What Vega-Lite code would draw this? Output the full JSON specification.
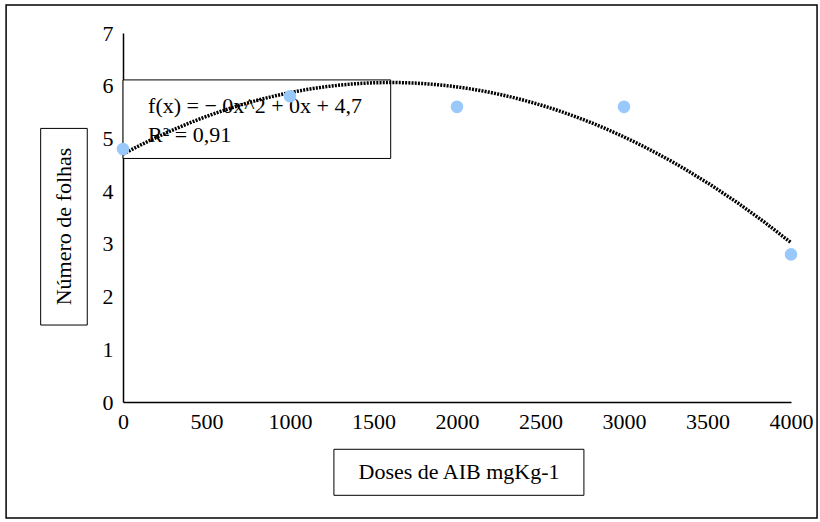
{
  "$schema": "https://vega.github.io/schema/vega-lite/v6.json",
  "autosize": {"type": "none"},
  "width": 668,
  "height": 369,
  "padding": {"left": 123, "top": 33, "right": 29, "bottom": 120},
  "background": "white",
  "config": {
    "view": {"stroke": null},
    "font": "Liberation Serif",
    "text": {"font": "Liberation Serif", "fontWeight": "normal"},
    "axis": {"labelFont": "Liberation Serif", "labelFontWeight": "normal", "labelFontSize": 22, "labelColor": "black", "domainColor": "black", "domainWidth": 1.5, "ticks": false, "grid": false, "title": null, "labelFlush": false, "labelOverlap": false, "format": "d"}
  },
  "data": {"values": [
    {"dose": 0, "folhas": 4.8},
    {"dose": 1000, "folhas": 5.8},
    {"dose": 2000, "folhas": 5.6},
    {"dose": 3000, "folhas": 5.6},
    {"dose": 4000, "folhas": 2.8}
  ]},
  "layer": [
    {
      "data": {"values": [{}]},
      "mark": {"type": "rect", "fill": null, "stroke": "black", "strokeWidth": 1.5, "clip": false},
      "encoding": {
        "x": {"datum": -700, "type": "quantitative", "scale": {"domain": [0, 4000], "nice": false, "zero": false}, "axis": {"values": [0, 500, 1000, 1500, 2000, 2500, 3000, 3500, 4000], "labelPadding": 9, "format": "d"}},
        "x2": {"datum": 4156},
        "y": {"datum": 7.53, "type": "quantitative", "scale": {"domain": [0, 7], "nice": false, "zero": false}, "axis": {"values": [0, 1, 2, 3, 4, 5, 6, 7], "labelPadding": 10, "format": "d"}},
        "y2": {"datum": -2.2}
      }
    },
    {
      "data": {"values": [{}]},
      "mark": {"type": "rect", "fill": "white", "stroke": "black", "strokeWidth": 1, "clip": false},
      "encoding": {
        "x": {"datum": 0, "type": "quantitative"},
        "x2": {"datum": 1603},
        "y": {"datum": 6.11, "type": "quantitative"},
        "y2": {"datum": 4.62}
      }
    },
    {
      "data": {"values": [{}]},
      "mark": {"type": "rect", "fill": "white", "stroke": "black", "strokeWidth": 1, "clip": false},
      "encoding": {
        "x": {"datum": -493, "type": "quantitative"},
        "x2": {"datum": -214},
        "y": {"datum": 5.19, "type": "quantitative"},
        "y2": {"datum": 1.46}
      }
    },
    {
      "data": {"values": [{}]},
      "mark": {"type": "rect", "fill": "white", "stroke": "black", "strokeWidth": 1, "clip": false},
      "encoding": {
        "x": {"datum": 1263, "type": "quantitative"},
        "x2": {"datum": 2760},
        "y": {"datum": -0.897, "type": "quantitative"},
        "y2": {"datum": -1.77}
      }
    },
    {
      "data": {"values": [{}]},
      "mark": {"type": "text", "text": "Número de folhas", "angle": 270, "font": "Liberation Serif", "fontWeight": "normal", "fontSize": 22, "fill": "black", "align": "center", "baseline": "middle", "clip": false},
      "encoding": {
        "x": {"datum": -353, "type": "quantitative"},
        "y": {"datum": 3.33, "type": "quantitative"}
      }
    },
    {
      "data": {"values": [{}]},
      "mark": {"type": "text", "text": "Doses de AIB mgKg-1", "font": "Liberation Serif", "fontWeight": "normal", "fontSize": 22, "fill": "black", "align": "center", "baseline": "middle", "clip": false},
      "encoding": {
        "x": {"datum": 2012, "type": "quantitative"},
        "y": {"datum": -1.334, "type": "quantitative"}
      }
    },
    {
      "data": {"values": [{}]},
      "mark": {"type": "text", "text": "f(x) =  − 0x^2 + 0x + 4,7", "font": "Liberation Serif", "fontWeight": "normal", "fontSize": 22, "fill": "black", "align": "left", "baseline": "middle", "clip": false},
      "encoding": {
        "x": {"datum": 150, "type": "quantitative"},
        "y": {"datum": 5.62, "type": "quantitative"}
      }
    },
    {
      "data": {"values": [{}]},
      "mark": {"type": "text", "text": "R² = 0,91", "font": "Liberation Serif", "fontWeight": "normal", "fontSize": 22, "fill": "black", "align": "left", "baseline": "middle", "clip": false},
      "encoding": {
        "x": {"datum": 150, "type": "quantitative"},
        "y": {"datum": 5.07, "type": "quantitative"}
      }
    },
    {
      "transform": [{"regression": "folhas", "on": "dose", "method": "poly", "order": 2, "extent": [0, 4000]}],
      "mark": {"type": "line", "color": "black", "strokeWidth": 3.5, "strokeDash": [2, 1.2], "strokeCap": "butt"},
      "encoding": {
        "x": {"field": "dose", "type": "quantitative"},
        "y": {"field": "folhas", "type": "quantitative"}
      }
    },
    {
      "mark": {"type": "point", "filled": true, "size": 160, "color": "#99c9fb", "opacity": 1},
      "encoding": {
        "x": {"field": "dose", "type": "quantitative"},
        "y": {"field": "folhas", "type": "quantitative"}
      }
    }
  ]
}
